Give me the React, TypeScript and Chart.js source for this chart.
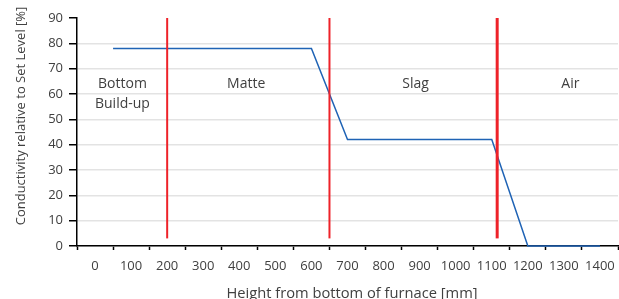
import React, { useEffect, useRef } from 'react';
import { Chart, registerables } from 'chart.js';

Chart.register(...registerables);

// Blue conductivity profile
const heightsMm = [50, 200, 300, 400, 500, 600, 700, 800, 900, 1000, 1100, 1200, 1300, 1400];
const conductivityPct = [78, 78, 78, 78, 78, 78, 42, 42, 42, 42, 42, 0, 0, 0];

// Red interface lines
const interfaceHeights = [200, 650, 1115];
const interfaceWidths = [2, 2, 3];
const interfaceBottom = 3;
const interfaceTop = 90;

// Zone labels
const zoneNames = [['Bottom', 'Build-up'], ['Matte'], ['Slag'], ['Air']];
const zoneCenters = [76, 419, 889, 1318];
const zoneLabelLevel = 64;

// Axis tick labels and titles
const xTickLabels = ['0', '100', '200', '300', '400', '500', '600', '700', '800', '900', '1000', '1100', '1200', '1300', '1400'];
const xTickBoundaries = [-50, 50, 150, 250, 350, 450, 550, 650, 750, 850, 950, 1050, 1150, 1250, 1350, 1450];
const yTicks = [0, 10, 20, 30, 40, 50, 60, 70, 80, 90];
const xTitle = 'Height from bottom of furnace [mm]';
const yTitle = 'Conductivity relative to Set Level [%]';

const FONT = '"Open Sans", "Noto Sans", sans-serif';
const TEXT = '#404040';

const zoneLabelPlugin = {
  id: 'zoneLabels',
  afterDatasetsDraw(chart: any) {
    const { ctx, scales } = chart;
    const xs = scales.x;
    const ys = scales.y;
    ctx.save();
    ctx.font = `14px ${FONT}`;
    ctx.fillStyle = TEXT;
    ctx.textAlign = 'center';
    ctx.textBaseline = 'middle';
    zoneNames.forEach((lines, i) => {
      const px = xs.getPixelForValue(zoneCenters[i]);
      const py = ys.getPixelForValue(zoneLabelLevel);
      lines.forEach((t, j) => ctx.fillText(t, px, py + j * 20));
    });
    ctx.restore();
  },
};

const axisTitlePlugin = {
  id: 'axisTitles',
  afterDraw(chart: any) {
    const { ctx } = chart;
    ctx.save();
    ctx.fillStyle = TEXT;
    ctx.textAlign = 'center';
    ctx.textBaseline = 'alphabetic';
    ctx.font = `14.7px ${FONT}`;
    ctx.fillText(xTitle, 352, 298);
    ctx.translate(25, 116);
    ctx.rotate(-Math.PI / 2);
    ctx.font = `13px ${FONT}`;
    ctx.fillText(yTitle, 0, 0);
    ctx.restore();
  },
};

export default function App() {
  const ref = useRef<HTMLCanvasElement | null>(null);

  useEffect(() => {
    if (!ref.current) return;
    const datasets: any[] = [
      {
        label: 'Conductivity',
        data: heightsMm.map((x, i) => ({ x, y: conductivityPct[i] })),
        borderColor: '#1f63b5',
        borderWidth: 1.5,
        pointRadius: 0,
        tension: 0,
        clip: false,
        order: 1,
      },
    ];
    interfaceHeights.forEach((h, i) => {
      datasets.push({
        label: 'Interface ' + i,
        data: [
          { x: h, y: interfaceBottom },
          { x: h, y: interfaceTop },
        ],
        borderColor: '#ee2229',
        borderWidth: interfaceWidths[i],
        pointRadius: 0,
        borderCapStyle: 'butt',
        order: 0,
      });
    });

    const chart = new Chart(ref.current, {
      type: 'line',
      data: { datasets },
      plugins: [zoneLabelPlugin, axisTitlePlugin],
      options: {
        animation: false,
        responsive: true,
        maintainAspectRatio: false,
        layout: { padding: { top: 18, right: 1, left: 0, bottom: 0 } },
        plugins: { legend: { display: false }, tooltip: { enabled: false } },
        scales: {
          x: {
            type: 'linear',
            min: -50,
            max: 1450,
            afterBuildTicks: (scale: any) => {
              scale.ticks = xTickBoundaries.map((v) => ({ value: v }));
            },
            afterFit: (scale: any) => {
              scale.height = 53;
              scale.paddingLeft = 0;
              scale.paddingRight = 0;
            },
            grid: {
              drawOnChartArea: false,
              drawTicks: true,
              tickLength: 4,
              tickColor: '#000',
              tickWidth: 1.5,
            },
            border: { display: true, color: '#000', width: 1.5 },
            ticks: {
              autoSkip: false,
              maxRotation: 0,
              minRotation: 0,
              labelOffset: 18,
              padding: 8,
              color: TEXT,
              font: { family: FONT, size: 13 },
              callback: (_v: any, i: number) => (i < xTickLabels.length ? xTickLabels[i] : ''),
            },
            title: { display: false },
          },
          y: {
            min: 0,
            max: 90,
            afterBuildTicks: (scale: any) => {
              scale.ticks = yTicks.map((v) => ({ value: v }));
            },
            afterFit: (scale: any) => {
              scale.width = 77;
            },
            grid: {
              color: (c: any) => (c.tick && c.tick.value === 90 ? 'rgba(0,0,0,0)' : '#e3e3e3'),
              lineWidth: 1.5,
              drawTicks: true,
              tickLength: 8,
              tickColor: '#000',
              tickWidth: 1.5,
            },
            border: { display: true, color: '#000', width: 1.5 },
            ticks: {
              padding: 6,
              color: TEXT,
              font: { family: FONT, size: 13 },
            },
            title: { display: false },
          },
        },
      } as any,
    });
    return () => chart.destroy();
  }, []);

  return (
    <div style={{ position: 'absolute', left: 0, top: 0, width: 619, height: 299 }}>
      <canvas ref={ref} />
    </div>
  );
}
